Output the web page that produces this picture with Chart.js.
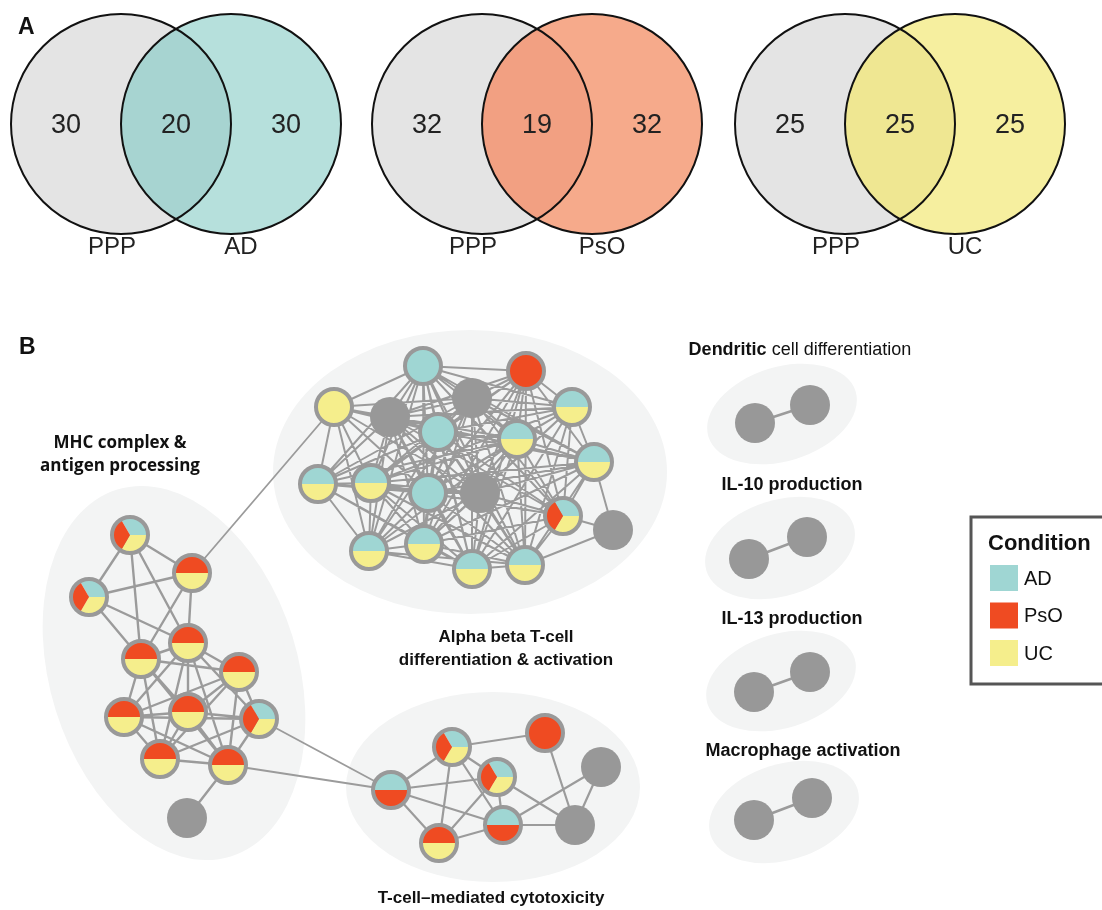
<!DOCTYPE html>
<html>
<head>
<meta charset="utf-8">
<script src="https://cdn.jsdelivr.net/npm/chart.js@4.4.1/dist/chart.umd.min.js"></script>
<style>
  body { margin: 0; background: #fff; }
  canvas { display: block; }
</style>
</head>
<body>
<canvas id="fig" width="1102" height="910"></canvas>
<script>
// ---- panel A: overlap counts ----
const vennLeft = ['PPP', 'PPP', 'PPP'];
const vennRight = ['AD', 'PsO', 'UC'];
const onlyLeft = [30, 32, 25];
const shared = [20, 19, 25];
const onlyRight = [30, 32, 25];

// ---- panel B: network, [x, y, conditions] ----
const conditions = ['AD', 'PsO', 'UC'];

const alphaNodes = [
  [423, 366, 'AD'], [526, 371, 'PsO'], [334, 407, 'UC'], [390, 417, ''],
  [472, 398, ''], [572, 407, 'AD/UC'], [438, 432, 'AD'], [517, 439, 'AD/UC'],
  [594, 462, 'AD/UC'], [318, 484, 'AD/UC'], [371, 483, 'AD/UC'], [428, 493, 'AD'],
  [480, 493, ''], [563, 516, 'AD/PsO/UC'], [613, 530, ''], [369, 551, 'AD/UC'],
  [424, 544, 'AD/UC'], [472, 569, 'AD/UC'], [525, 565, 'AD/UC']
];
// neighbours (1-based, higher index only)
const alphaLinks = {
  1: [2, 3, 4, 5, 6, 7, 8, 9, 10, 11, 12, 13, 14, 16, 17, 18, 19],
  2: [4, 5, 6, 7, 8, 9, 11, 12, 13, 14, 17, 18, 19],
  3: [4, 5, 7, 8, 10, 11, 12, 13, 16],
  4: [5, 6, 7, 8, 9, 10, 11, 12, 13, 14, 16, 17, 18, 19],
  5: [6, 7, 8, 9, 10, 11, 12, 13, 14, 16, 17, 18, 19],
  6: [7, 8, 9, 11, 12, 13, 14, 17, 18, 19],
  7: [8, 9, 10, 11, 12, 13, 14, 16, 17, 18, 19],
  8: [9, 10, 11, 12, 13, 14, 16, 17, 18, 19],
  9: [11, 12, 13, 14, 15, 17, 18, 19],
  10: [11, 12, 13, 16, 17, 18],
  11: [12, 13, 14, 16, 17, 18, 19],
  12: [13, 14, 16, 17, 18, 19],
  13: [14, 16, 17, 18, 19],
  14: [15, 17, 18, 19],
  15: [19],
  16: [17, 18, 19],
  17: [18, 19],
  18: [19]
};

const mhcNodes = [
  [130, 535, 'AD/PsO/UC'], [192, 573, 'PsO/UC'], [89, 597, 'AD/PsO/UC'], [188, 643, 'PsO/UC'],
  [141, 659, 'PsO/UC'], [239, 672, 'PsO/UC'], [124, 717, 'PsO/UC'], [188, 712, 'PsO/UC'],
  [259, 719, 'AD/PsO/UC'], [160, 759, 'PsO/UC'], [228, 765, 'PsO/UC'], [187, 818, '']
];
const mhcEdges = [
  [0, 1], [0, 2], [0, 4], [0, 3], [2, 1], [2, 4], [2, 3], [1, 3], [1, 4],
  [3, 4], [3, 5], [3, 6], [3, 7], [3, 8], [3, 9], [3, 10],
  [4, 5], [4, 6], [4, 7], [4, 9], [4, 10],
  [5, 6], [5, 7], [5, 8], [5, 9], [5, 10],
  [6, 7], [6, 9], [6, 10], [6, 8], [7, 8], [7, 9], [7, 10],
  [8, 9], [8, 10], [9, 10], [10, 11]
];

const tcellNodes = [
  [391, 790, 'AD/PsO'], [452, 747, 'AD/PsO/UC'], [545, 733, 'PsO'], [497, 777, 'AD/PsO/UC'],
  [601, 767, ''], [439, 843, 'PsO/UC'], [503, 825, 'AD/PsO'], [575, 825, '']
];
const tcellEdges = [
  [0, 1], [0, 3], [0, 6], [0, 5], [1, 2], [1, 3], [1, 5], [1, 6],
  [3, 5], [3, 6], [3, 7], [2, 7], [4, 7], [4, 6], [5, 6], [6, 7]
];

const pairNodes = [
  [755, 423, ''], [810, 405, ''],
  [749, 559, ''], [807, 537, ''],
  [754, 692, ''], [810, 672, ''],
  [754, 820, ''], [812, 798, '']
];
const pairEdges = [[0, 1], [2, 3], [4, 5], [6, 7]];

// links between modules: [fromNode, toNode]
const bridges = [
  [alphaNodes[2], mhcNodes[1]],
  [mhcNodes[8], tcellNodes[0]],
  [mhcNodes[10], tcellNodes[0]]
];

const moduleLabels = [
  { lines: ['MHC complex &', 'antigen processing'], x: 120, y: 443, font: 'bold 17px "Open Sans"' },
  { lines: ['Alpha beta T-cell', 'differentiation & activation'], x: 506, y: 637, font: 'bold 17px "Liberation Sans"' },
  { lines: ['T-cell\u2013mediated cytotoxicity'], x: 491, y: 898, font: 'bold 17px "Liberation Sans"' },
  { lines: ['IL-10 production'], x: 792, y: 485, font: 'bold 18px "Liberation Sans"' },
  { lines: ['IL-13 production'], x: 792, y: 619, font: 'bold 18px "Liberation Sans"' },
  { lines: ['Macrophage activation'], x: 803, y: 751, font: 'bold 18px "Liberation Sans"' }
];

// ---- layout & style ----
const vennCx = [[121, 231], [482, 592], [845, 955]];
const vennCy = 124, vennR = 110;
const vennFill = ['#b6e0dc', '#f6aa8b', '#f6ef9f'];
const vennBoth = ['#a7d4d1', '#f2a082', '#efe792'];
const condColor = { AD: '#9fd6d3', PsO: '#ef4b22', UC: '#f5ee8c' };

const hulls = [
  [470, 472, 197, 142, 0], [174, 673, 124, 192, -0.3], [493, 787, 147, 95, 0],
  [782, 414, 77, 47, -0.3], [780, 548, 77, 48, -0.3], [781, 681, 77, 47, -0.3], [784, 812, 77, 48, -0.3]
];

const iconCache = {};
function nodeIcon(kind) {
  if (iconCache[kind]) return iconCache[kind];
  const c = document.createElement('canvas');
  c.width = c.height = 44;
  const g = c.getContext('2d');
  if (!kind) {
    g.fillStyle = '#989898';
    g.beginPath(); g.arc(22, 22, 20, 0, 2 * Math.PI); g.fill();
  } else {
    const parts = kind.split('/');
    let slices;
    if (parts.length === 1) slices = [[parts[0], 0, 2 * Math.PI]];
    else if (parts.length === 2) slices = [[parts[0], Math.PI, 2 * Math.PI], [parts[1], 0, Math.PI]];
    else slices = [['AD', -2 * Math.PI / 3, 0], ['UC', 0, 2 * Math.PI / 3], ['PsO', 2 * Math.PI / 3, 4 * Math.PI / 3]];
    slices.forEach(s => {
      g.fillStyle = condColor[s[0]];
      g.beginPath(); g.moveTo(22, 22); g.arc(22, 22, 18, s[1], s[2]); g.closePath(); g.fill();
    });
    g.strokeStyle = '#999';
    g.lineWidth = 4;
    g.beginPath(); g.arc(22, 22, 18, 0, 2 * Math.PI); g.stroke();
  }
  iconCache[kind] = c;
  return c;
}

function edgePoints(nodes, pairs) {
  const pts = [];
  pairs.forEach(([a, b]) => {
    pts.push({ x: nodes[a][0], y: nodes[a][1] }, { x: nodes[b][0], y: nodes[b][1] }, { x: null, y: null });
  });
  return pts;
}

const alphaEdges = [];
Object.keys(alphaLinks).forEach(k => alphaLinks[k].forEach(n => alphaEdges.push([k - 1, n - 1])));

const bridgePts = [];
bridges.forEach(([a, b]) => bridgePts.push({ x: a[0], y: a[1] }, { x: b[0], y: b[1] }, { x: null, y: null }));

function edgeSet(data, width) {
  return { data, showLine: true, spanGaps: false, borderColor: '#9b9b9b', borderWidth: width, pointRadius: 0, order: 2 };
}
function nodeSet(nodes) {
  return {
    data: nodes.map(n => ({ x: n[0], y: n[1] })),
    pointStyle: nodes.map(n => nodeIcon(n[2])),
    pointRadius: 20, order: 1
  };
}

const backdrop = {
  id: 'backdrop',
  beforeDatasetsDraw(chart) {
    const { ctx, scales: { x, y } } = chart;
    const k = x.getPixelForValue(1) - x.getPixelForValue(0);
    ctx.save();
    // module hulls
    ctx.fillStyle = '#f3f4f4';
    hulls.forEach(h => {
      ctx.beginPath();
      ctx.ellipse(x.getPixelForValue(h[0]), y.getPixelForValue(h[1]), h[2] * k, h[3] * k, h[4], 0, 2 * Math.PI);
      ctx.fill();
    });
    // venn diagrams
    vennCx.forEach((cx, i) => {
      const lx = x.getPixelForValue(cx[0]), rx = x.getPixelForValue(cx[1]), cy = y.getPixelForValue(vennCy), r = vennR * k;
      ctx.fillStyle = '#e4e4e4';
      ctx.beginPath(); ctx.arc(lx, cy, r, 0, 2 * Math.PI); ctx.fill();
      ctx.fillStyle = vennFill[i];
      ctx.beginPath(); ctx.arc(rx, cy, r, 0, 2 * Math.PI); ctx.fill();
      ctx.save();
      ctx.beginPath(); ctx.arc(lx, cy, r, 0, 2 * Math.PI); ctx.clip();
      ctx.fillStyle = vennBoth[i];
      ctx.beginPath(); ctx.arc(rx, cy, r, 0, 2 * Math.PI); ctx.fill();
      ctx.restore();
      ctx.strokeStyle = '#111';
      ctx.lineWidth = 2;
      ctx.beginPath(); ctx.arc(lx, cy, r, 0, 2 * Math.PI); ctx.stroke();
      ctx.beginPath(); ctx.arc(rx, cy, r, 0, 2 * Math.PI); ctx.stroke();

      ctx.fillStyle = '#222';
      ctx.textAlign = 'center';
      ctx.textBaseline = 'middle';
      ctx.font = '27px "Liberation Sans"';
      ctx.fillText(onlyLeft[i], x.getPixelForValue(cx[0] - 55), cy + 2);
      ctx.fillText(shared[i], x.getPixelForValue((cx[0] + cx[1]) / 2), cy + 2);
      ctx.fillText(onlyRight[i], x.getPixelForValue(cx[1] + 55), cy + 2);
      ctx.font = '24px "Liberation Sans"';
      ctx.fillText(vennLeft[i], x.getPixelForValue(cx[0] - 9), y.getPixelForValue(247));
      ctx.fillText(vennRight[i], x.getPixelForValue(cx[1] + 10), y.getPixelForValue(247));
    });
    ctx.restore();
  },
  afterDatasetsDraw(chart) {
    const { ctx, scales: { x, y } } = chart;
    ctx.save();
    ctx.fillStyle = '#111';
    ctx.textBaseline = 'middle';
    ctx.textAlign = 'left';
    ctx.font = 'bold 23px "Liberation Sans"';
    ctx.fillText('A', x.getPixelForValue(18), y.getPixelForValue(28));
    ctx.fillText('B', x.getPixelForValue(19), y.getPixelForValue(348));

    ctx.textAlign = 'center';
    moduleLabels.forEach(m => {
      ctx.font = m.font;
      m.lines.forEach((t, j) => ctx.fillText(t, x.getPixelForValue(m.x), y.getPixelForValue(m.y + j * 23)));
    });

    // mixed-weight label
    ctx.textAlign = 'left';
    const a = 'Dendritic', b = ' cell differentiation';
    ctx.font = 'bold 18px "Liberation Sans"';
    const wa = ctx.measureText(a).width;
    ctx.font = '18px "Liberation Sans"';
    const wb = ctx.measureText(b).width;
    const x0 = x.getPixelForValue(800) - (wa + wb) / 2, yy = y.getPixelForValue(350);
    ctx.font = 'bold 18px "Liberation Sans"';
    ctx.fillText(a, x0, yy);
    ctx.font = '18px "Liberation Sans"';
    ctx.fillText(b, x0 + wa, yy);

    // condition legend
    ctx.strokeStyle = '#555';
    ctx.lineWidth = 3;
    ctx.strokeRect(x.getPixelForValue(971), y.getPixelForValue(517), 150, y.getPixelForValue(684) - y.getPixelForValue(517));
    ctx.font = 'bold 22px "Liberation Sans"';
    ctx.fillText('Condition', x.getPixelForValue(988), y.getPixelForValue(544));
    ctx.font = '20px "Liberation Sans"';
    conditions.forEach((c, i) => {
      const top = y.getPixelForValue(565 + i * 37.5);
      ctx.fillStyle = condColor[c];
      ctx.fillRect(x.getPixelForValue(990), top, 28, 26);
      ctx.fillStyle = '#111';
      ctx.fillText(c, x.getPixelForValue(1024), top + 14);
    });
    ctx.restore();
  }
};

new Chart(document.getElementById('fig'), {
  type: 'scatter',
  data: {
    datasets: [
      nodeSet(alphaNodes), nodeSet(mhcNodes), nodeSet(tcellNodes), nodeSet(pairNodes),
      edgeSet(edgePoints(alphaNodes, alphaEdges), 2),
      edgeSet(edgePoints(mhcNodes, mhcEdges), 2.4),
      edgeSet(edgePoints(tcellNodes, tcellEdges), 2.2),
      edgeSet(edgePoints(pairNodes, pairEdges), 2.6),
      edgeSet(bridgePts, 1.8)
    ]
  },
  options: {
    responsive: false,
    animation: false,
    devicePixelRatio: 1,
    layout: { padding: 0, autoPadding: false },
    scales: {
      x: { type: 'linear', min: 0, max: 1102, display: false },
      y: { type: 'linear', min: 0, max: 910, reverse: true, display: false }
    },
    plugins: { legend: { display: false }, tooltip: { enabled: false } }
  },
  plugins: [backdrop]
});
</script>
</body>
</html>
